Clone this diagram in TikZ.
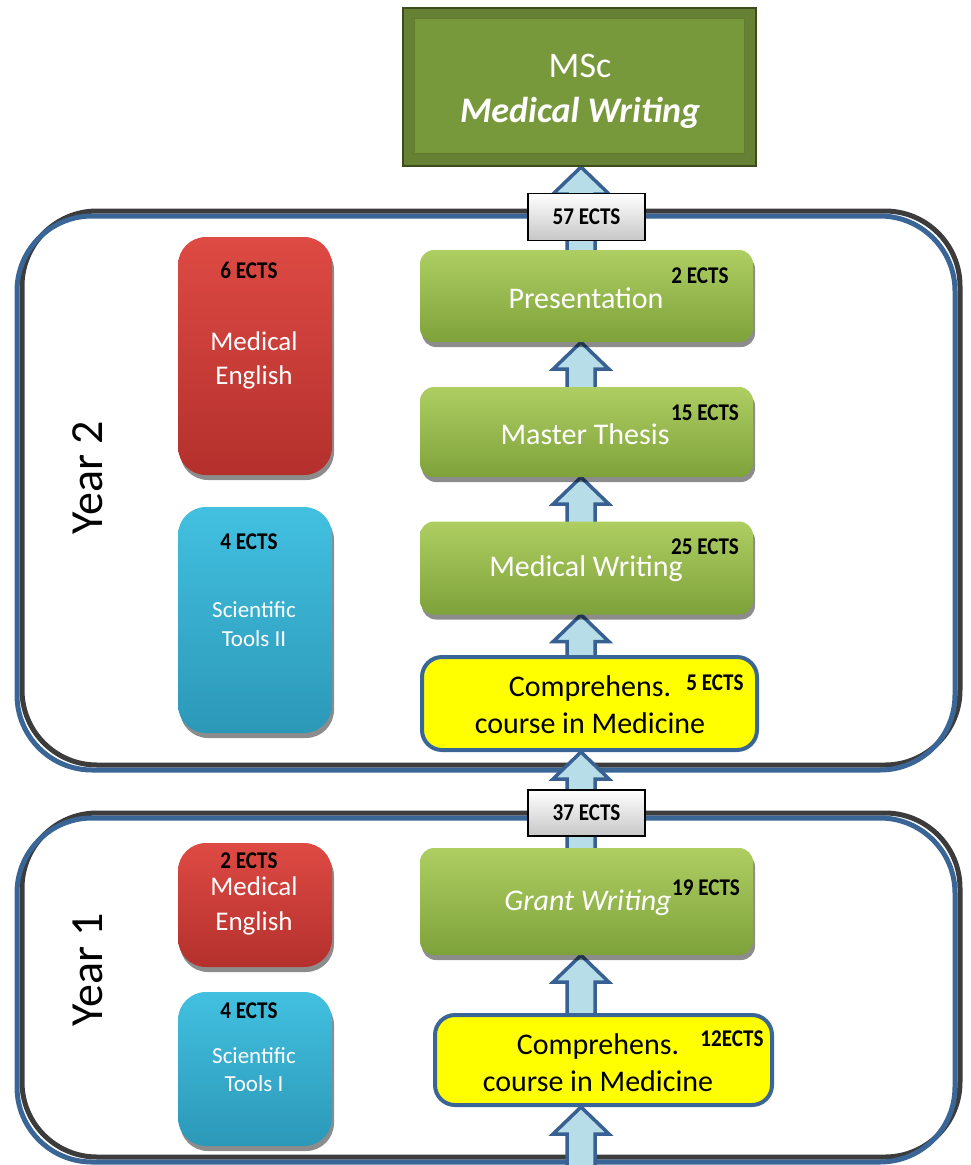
\documentclass[tikz,border=0pt]{standalone}
\usepackage{fontspec}
\setmainfont{Carlito}
\newfontfamily\ectsfont{Carlito}[FakeStretch=0.88]
\usetikzlibrary{shadows,calc}
\pgfdeclarelayer{bg}\pgfdeclarelayer{mid}\pgfsetlayers{bg,mid,main}
\definecolor{oblue}{RGB}{58,101,151}
\definecolor{odark}{RGB}{60,60,60}
\definecolor{redtop}{RGB}{222,74,68}
\definecolor{redbot}{RGB}{180,48,44}
\definecolor{cyantop}{RGB}{66,192,224}
\definecolor{cyanbot}{RGB}{44,152,184}
\definecolor{greentop}{RGB}{174,206,98}
\definecolor{greenbot}{RGB}{126,162,58}
\definecolor{arrfill}{RGB}{183,222,232}
\definecolor{arrdraw}{RGB}{56,96,146}
\definecolor{mscfill}{RGB}{120,152,60}
\definecolor{mscdark}{RGB}{60,76,28}
\definecolor{mscedge}{RGB}{96,124,44}
\definecolor{pureyellow}{RGB}{255,255,0}
\newcommand\fsz[2]{\fontsize{#1}{#2}\selectfont}
\newcommand\blockarr[2]{%
  \draw[barr] let \p1=(#1.north), \p2=(#2.south) in
   (581pt,\y2) -- (609pt,\y2-27pt) -- (595pt,\y2-27pt) -- (595pt,\y1-4pt)
   -- (567pt,\y1-4pt) -- (567pt,\y2-27pt) -- (553pt,\y2-27pt) -- cycle;}
\begin{document}
\begin{tikzpicture}[x=1pt,y=-1pt,
  outerline/.style={rectangle, rounded corners=75pt, line width=5pt, minimum width=938pt, inner sep=0pt},
  boxshadow/.style={drop shadow={shadow xshift=2pt, shadow yshift=-5pt, opacity=0.45, fill=black}},
  redbox/.style={rectangle, rounded corners=28pt, top color=redtop, bottom color=redbot, draw=none, minimum width=154pt, inner sep=0pt, boxshadow},
  cyanbox/.style={rectangle, rounded corners=28pt, top color=cyantop, bottom color=cyanbot, draw=none, minimum width=154pt, inner sep=0pt, boxshadow},
  greenbox/.style={rectangle, rounded corners=14pt, top color=greentop, bottom color=greenbot, draw=none, minimum width=333pt, inner sep=0pt, boxshadow},
  yellowbox/.style={rectangle, rounded corners=20pt, fill=pureyellow, draw=oblue, line width=4pt, inner sep=0pt},
  greybox/.style={rectangle, top color=white, bottom color=black!22, draw=black, line width=1.5pt, minimum width=117pt, inner sep=0pt, font=\ectsfont\bfseries\fsz{24}{26}},
  ects/.style={inner sep=0pt, font=\ectsfont\bfseries\fsz{24}{26}, text=black},
  wtext/.style={inner sep=0pt, text=white, align=center},
  btext/.style={inner sep=0pt, text=black, align=center, font=\fsz{30}{37}},
  barr/.style={fill=arrfill, draw=arrdraw, line width=3.5pt, line join=miter}
]
\useasboundingbox (0,0) rectangle (971,1165);

% outer year frames
\begin{pgfonlayer}{bg}
\node[outerline, draw=odark, minimum height=554pt] (y2shadow) at (491,488) {};
\node[outerline, draw=oblue, minimum height=554pt] (y2frame) at (486,493) {};
\node[outerline, draw=odark, minimum height=344pt] (y1shadow) at (491,985) {};
\node[outerline, draw=oblue, minimum height=344pt] (y1frame) at (486,990) {};
\end{pgfonlayer}

% MSc box
\node[rectangle, fill=mscfill!85!black, draw=mscdark, line width=2pt, minimum width=353pt, minimum height=158pt, inner sep=0pt] (msc) at (579.5,87) {};
\node[rectangle, fill=mscfill, draw=mscedge, line width=1.5pt, minimum width=330pt, minimum height=135pt, inner sep=0pt] (mscinner) at (579.5,86) {};
\node[wtext, font=\fsz{36}{45}] (msctext) at (580,91) {MSc\\\textbf{\textit{Medical Writing}}};

% Year labels
\node[rotate=90, inner sep=0pt, font=\fsz{46}{50}] (year2) at (88,478) {Year 2};
\node[rotate=90, inner sep=0pt, font=\fsz{46}{50}] (year1) at (88,970) {Year 1};

% Year 2 left column
\node[redbox, minimum height=238pt] (red2) at (255,356) {};
\node[ects] (red2e) at (249,270) {6 ECTS};
\node[wtext, font=\fsz{27}{34}] (red2t) at (254,360) {Medical\\English};
\node[cyanbox, minimum height=226pt] (cyan2) at (255,620) {};
\node[ects] (cyan2e) at (249,542) {4 ECTS};
\node[wtext, font=\fsz{23}{29}] (cyan2t) at (254,624) {Scientific\\Tools II};

% Year 2 right column
\node[greenbox, minimum height=92pt] (pres) at (586.5,296) {};
\node[wtext, font=\fsz{30}{36}] (prest) at (586,298) {Presentation};
\node[ects] (prese) at (700,276) {2 ECTS};
\node[greenbox, minimum height=90pt] (thesis) at (586.5,432) {};
\node[wtext, font=\fsz{30}{36}] (thesist) at (585,434) {Master Thesis};
\node[ects] (thesise) at (705,413) {15 ECTS};
\node[greenbox, minimum height=93pt] (mwrit) at (586.5,568) {};
\node[wtext, font=\fsz{30}{36}] (mwritt) at (586,569) {Medical Writing};
\node[ects] (mwrite) at (705,547) {25 ECTS};
\node[yellowbox, minimum width=335pt, minimum height=93pt] (yel2) at (589.5,703.5) {};
\node[btext] (yel2t) at (590,705) {Comprehens.\\course in Medicine};
\node[ects] (yel2e) at (715,683) {5 ECTS};

% Year 1 left column
\node[redbox, minimum height=124pt] (red1) at (255,905) {};
\node[ects] (red1e) at (249,861) {2 ECTS};
\node[wtext, font=\fsz{27}{35}] (red1t) at (254,906) {Medical\\English};
\node[cyanbox, minimum height=154pt] (cyan1) at (255,1069) {};
\node[ects] (cyan1e) at (249,1011) {4 ECTS};
\node[wtext, font=\fsz{23}{28}] (cyan1t) at (254,1070) {Scientific\\Tools I};

% Year 1 right column
\node[greenbox, minimum height=107pt] (grant) at (586.5,901.5) {};
\node[wtext, font=\itshape\fsz{30}{36}] (grantt) at (588,903) {Grant Writing};
\node[ects] (grante) at (706,888) {19 ECTS};
\node[yellowbox, minimum width=337pt, minimum height=90pt] (yel1) at (603.5,1060) {};
\node[btext] (yel1t) at (598,1063) {Comprehens.\\course in Medicine};
\node[ects] (yel1e) at (732,1039) {12ECTS};

% ECTS totals
\node[greybox, minimum height=47pt] (e57) at (586.5,217) {57 ECTS};
\node[greybox, minimum height=46pt] (e37) at (586.5,813) {37 ECTS};

% bottom entry point
\node[inner sep=0pt, minimum size=0pt] (entry) at (581,1172) {};

% block arrows
\begin{pgfonlayer}{mid}
\blockarr{pres}{msc}
\blockarr{thesis}{pres}
\blockarr{mwrit}{thesis}
\blockarr{yel2}{mwrit}
\blockarr{grant}{yel2}
\blockarr{yel1}{grant}
\blockarr{entry}{yel1}
\end{pgfonlayer}
\end{tikzpicture}
\end{document}
